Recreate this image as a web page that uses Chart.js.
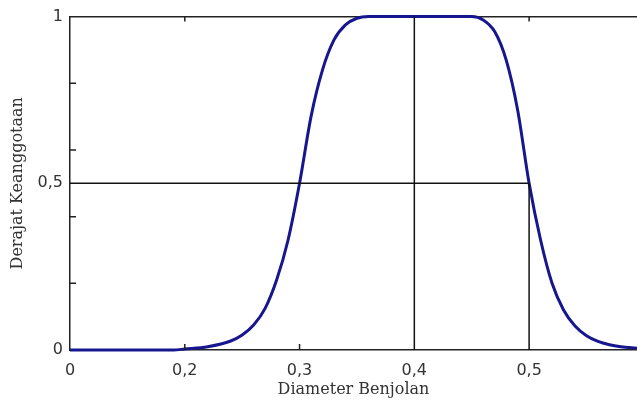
<!DOCTYPE html>
<html>
<head>
    <meta charset="utf-8" />
    <title>Derajat Keanggotaan</title>
    <script src="https://cdn.jsdelivr.net/npm/chart.js@4/dist/chart.umd.min.js"></script>
    <style>
        body {
            margin: 0;
            background: #ffffff;
        }

        .chart-box {
            width: 637px;
            height: 403px;
        }
    </style>
</head>
<body>
<div class="chart-box">
    <canvas id="mfChart"></canvas>
</div>

<script>
    // membership curve
    const diameter = [0.1, 0.15, 0.19, 0.2, 0.22, 0.24, 0.25, 0.26, 0.27, 0.28, 0.29, 0.3,
        0.31, 0.32, 0.33, 0.34, 0.35, 0.36, 0.4, 0.44, 0.45, 0.46, 0.47, 0.48, 0.49,
        0.5, 0.51, 0.52, 0.53, 0.54, 0.55, 0.56, 0.57, 0.58, 0.594];
    const derajat = [0, 0, 0, 0.003, 0.01, 0.027, 0.045, 0.075, 0.125, 0.21, 0.33, 0.5,
        0.7, 0.84, 0.93, 0.975, 0.995, 1, 1, 1, 1, 0.99, 0.955, 0.87, 0.72,
        0.5, 0.33, 0.2, 0.12, 0.072, 0.043, 0.026, 0.016, 0.01, 0.005];

    // helper lines
    const vLine04 = [{ x: 0.4, y: 0 }, { x: 0.4, y: 1 }];
    const vLine05 = [{ x: 0.5, y: 0 }, { x: 0.5, y: 0.5 }];
    const hLine05 = [{ x: 0.1, y: 0.5 }, { x: 0.5, y: 0.5 }];

    // ticks
    const xTicks = [0.1, 0.2, 0.3, 0.4, 0.5];
    const xTickLabels = ['0', '0,2', '0,3', '0,4', '0,5'];
    const yTicks = [0, 0.5, 1];
    const yTickLabels = ['0', '0,5', '1'];
    const yMinorTicks = [0.2, 0.4, 0.6, 0.8];
    const bottomMinorTicks = [0.2, 0.3];
    const topMinorTicks = [0.2, 0.5];

    const curvePoints = diameter.map((d, i) => ({ x: d, y: derajat[i] }));

    // small inward tick marks like the matlab axes
    const innerTicks = {
        id: 'innerTicks',
        afterDatasetsDraw(chart) {
            const ctx = chart.ctx;
            const xs = chart.scales.x;
            const ys = chart.scales.y;
            const area = chart.chartArea;
            ctx.save();
            ctx.strokeStyle = '#222';
            ctx.lineWidth = 1.5;
            ctx.beginPath();
            yMinorTicks.forEach(v => {
                const py = ys.getPixelForValue(v);
                ctx.moveTo(area.left, py);
                ctx.lineTo(area.left + 6, py);
            });
            bottomMinorTicks.forEach(v => {
                const px = xs.getPixelForValue(v);
                ctx.moveTo(px, area.bottom);
                ctx.lineTo(px, area.bottom - 6);
            });
            topMinorTicks.forEach(v => {
                const px = xs.getPixelForValue(v);
                ctx.moveTo(px, area.top);
                ctx.lineTo(px, area.top + 5);
            });
            ctx.stroke();
            ctx.restore();
        }
    };

    const ctx = document.getElementById('mfChart').getContext('2d');
    const mfChart = new Chart(ctx, {
        type: 'scatter',
        data: {
            datasets: [{
                data: vLine04,
                showLine: true,
                borderColor: '#111',
                borderWidth: 1.5,
                pointRadius: 0
            }, {
                data: vLine05,
                showLine: true,
                borderColor: '#111',
                borderWidth: 1.5,
                pointRadius: 0
            }, {
                data: hLine05,
                showLine: true,
                borderColor: '#111',
                borderWidth: 1.5,
                pointRadius: 0
            }, {
                data: curvePoints,
                showLine: true,
                borderColor: '#16168e',
                borderWidth: 3,
                pointRadius: 0,
                cubicInterpolationMode: 'monotone',
                clip: false
            }]
        },
        options: {
            responsive: true,
            maintainAspectRatio: false,
            animation: false,
            layout: {
                padding: { left: 0, right: 0, top: 0, bottom: 0 }
            },
            plugins: {
                legend: { display: false },
                tooltip: { enabled: false }
            },
            scales: {
                x: {
                    type: 'linear',
                    min: 0.1,
                    max: 0.594,
                    afterBuildTicks: scale => {
                        scale.ticks = xTicks.map(v => ({ value: v }));
                    },
                    afterFit: scale => {
                        scale.height = 53;
                    },
                    ticks: {
                        autoSkip: false,
                        maxRotation: 0,
                        padding: 11,
                        color: '#333',
                        font: { family: 'DejaVu Sans', size: 16 },
                        callback: (v, i) => xTickLabels[i]
                    },
                    grid: { drawOnChartArea: false, drawTicks: false },
                    border: { color: '#222', width: 1.5 },
                    title: {
                        display: true,
                        text: 'Diameter Benjolan',
                        color: '#333',
                        font: { family: 'DejaVu Serif', size: 16 },
                        padding: { top: 0, bottom: 4 }
                    }
                },
                xTop: {
                    type: 'linear',
                    position: 'top',
                    min: 0.1,
                    max: 0.594,
                    afterFit: scale => {
                        scale.height = 16;
                    },
                    ticks: { display: false },
                    grid: { drawOnChartArea: false, drawTicks: false },
                    border: { color: '#222', width: 1.5 }
                },
                y: {
                    min: 0,
                    max: 1,
                    afterBuildTicks: scale => {
                        scale.ticks = yTicks.map(v => ({ value: v }));
                    },
                    afterFit: scale => {
                        scale.width = 70;
                    },
                    ticks: {
                        padding: 7,
                        color: '#333',
                        font: { family: 'DejaVu Sans', size: 16 },
                        callback: (v, i) => yTickLabels[i]
                    },
                    grid: { drawOnChartArea: false, drawTicks: false },
                    border: { color: '#222', width: 1.5 },
                    title: {
                        display: true,
                        text: 'Derajat Keanggotaan',
                        color: '#333',
                        font: { family: 'DejaVu Serif', size: 16 },
                        padding: { top: 8, bottom: 0 }
                    }
                }
            }
        },
        plugins: [innerTicks]
    });
</script>
</body>
</html>
